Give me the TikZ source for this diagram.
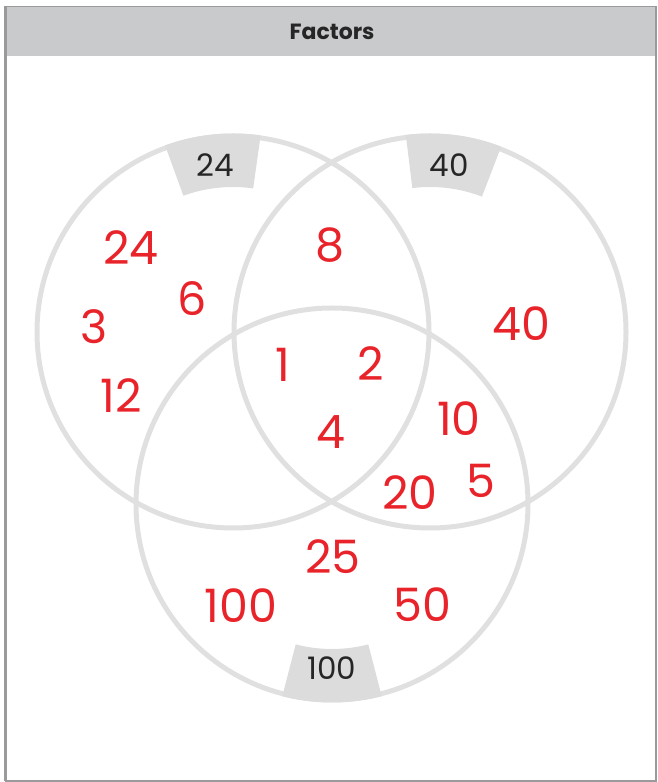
\documentclass[tikz,border=0pt]{standalone}
\usepackage{fontspec}
\setmainfont{Poppins}
\definecolor{frame}{HTML}{9A9A9C}
\definecolor{head}{HTML}{C9CACC}
\definecolor{ring}{HTML}{E0E0E1}
\definecolor{tabc}{HTML}{DCDCDD}
\definecolor{numred}{HTML}{E8232A}
\begin{document}
\begin{tikzpicture}[x=1pt,y=1pt,
  num/.style={text=numred,font=\fontsize{46}{46}\selectfont,inner sep=0pt},
  lab/.style={text=black!85,font=\fontsize{31}{31}\selectfont,inner sep=0pt},
  ringline/.style={draw=ring,line width=5pt}]
\useasboundingbox (0,0) rectangle (657,782);
% frame and header
\fill[head] (7,726) rectangle (655,775);
\draw[frame,line width=1.5pt] (6,0.8) -- (6,775.5) -- (655.8,775.5) -- (655.8,0.8) -- cycle;
\draw[frame,line width=3pt] (5.5,0.5) -- (5.5,776);
\node[font=\bfseries\fontsize{22}{22}\selectfont,text=black!85] (title) at (332,750) {Factors};
% circles
\coordinate (cA) at (233,450);
\coordinate (cB) at (430,450);
\coordinate (cC) at (332,278);
\draw[ringline] (cA) circle[radius=196];
\draw[ringline] (cB) circle[radius=196];
\draw[ringline] (cC) circle[radius=196];
% tabs
\fill[tabc] ([shift={(82:198.5)}]cA) arc[start angle=82,end angle=110,radius=198.5]
  -- ([shift={(110:145)}]cA) arc[start angle=110,end angle=82,radius=145] -- cycle;
\fill[tabc] ([shift={(69:198.5)}]cB) arc[start angle=69,end angle=97,radius=198.5]
  -- ([shift={(97:145)}]cB) arc[start angle=97,end angle=69,radius=145] -- cycle;
\fill[tabc] ([shift={(255.5:198.5)}]cC) arc[start angle=255.5,end angle=284.5,radius=198.5]
  -- ([shift={(284.5:145)}]cC) arc[start angle=284.5,end angle=255.5,radius=145] -- cycle;
\node[lab] (lA) at (215,617) {24};
\node[lab] (lB) at (449,617) {40};
\node[lab] (lC) at (332,114) {100};
% numbers
\node[num] (n24) at (131,534) {24};
\node[num] (n6) at (192,483) {6};
\node[num] (n3) at (94,455) {3};
\node[num] (n12) at (121,386) {12};
\node[num] (n8) at (330,537) {8};
\node[num] (n40) at (521,458) {40};
\node[num] (n1) at (283,417) {1};
\node[num] (n2) at (371,418) {2};
\node[num] (n4) at (331,350) {4};
\node[num] (n10) at (459,363) {10};
\node[num] (n5) at (481,301) {5};
\node[num] (n20) at (410,289) {20};
\node[num] (n25) at (333,225) {25};
\node[num] (n100) at (241,176) {100};
\node[num] (n50) at (422,177) {50};
\end{tikzpicture}
\end{document}
